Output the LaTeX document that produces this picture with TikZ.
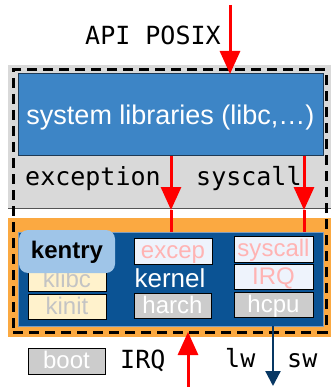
\documentclass[tikz,border=0pt]{standalone}
\usepackage{fontspec}
\setmainfont{Liberation Sans}
\newfontfamily\codefont{DejaVu Sans Mono}
\usetikzlibrary{arrows.meta,shadows}

\definecolor{usergray}{HTML}{D9D9D9}
\definecolor{edgegray}{HTML}{555555}
\definecolor{kernorange}{HTML}{FBA941}
\definecolor{libblue}{HTML}{3D85C6}
\definecolor{libedge}{HTML}{1F3A55}
\definecolor{kernblue}{HTML}{0B5394}
\definecolor{kernedge}{HTML}{7F9DBD}
\definecolor{entryblue}{HTML}{9FC5E8}
\definecolor{paleblue}{HTML}{EEF3FC}
\definecolor{palepink}{HTML}{FFB3B3}
\definecolor{cream}{HTML}{FFF2CC}
\definecolor{softgray}{HTML}{CCCCCC}
\definecolor{textgray}{HTML}{C4C4C4}
\definecolor{navy}{HTML}{073763}

\begin{document}
\begin{tikzpicture}[x=1pt,y=-1pt,
  area/.style={anchor=north west, inner sep=0pt, outer sep=0pt},
  code/.style={font=\codefont\fontsize{25}{28}\selectfont, anchor=base west, inner sep=0pt},
  panelbox/.style={area, draw=black, line width=0.8pt,
    minimum width=78pt, minimum height=26pt,
    font=\fontsize{24}{26}\selectfont, text height=17pt, text depth=2pt,
    drop shadow={shadow xshift=1.3pt, shadow yshift=-1.3pt, opacity=1, fill=black}},
  pinkbox/.style={panelbox, fill=paleblue, text=palepink},
  greybox/.style={panelbox, fill=softgray, text=white},
  creambox/.style={panelbox, fill=cream, text=textgray},
  redarrow/.style={draw=red, line width=3pt, -{Triangle[width=20pt,length=23pt]}},
  redline/.style={draw=red, line width=3pt},
  navyarrow/.style={draw=navy, line width=2.2pt, -{Triangle[width=15pt,length=15pt]}}
]
\useasboundingbox (0,0) rectangle (331,387);

% user space and kernel space bands
\node[area, fill=usergray, minimum width=323pt, minimum height=143pt] (userland) at (8,65) {};
\draw[edgegray, line width=1pt] (userland.south west) -- (userland.south east);
\node[area, fill=kernorange, minimum width=323pt, minimum height=119pt] (kernland) at (8,218) {};

% dashed outline around both layers
\node[area, draw=black, line width=3pt, dash pattern=on 10pt off 6pt,
      minimum width=313pt, minimum height=262pt] (ring) at (13,70) {};

% system libraries
\node[area, fill=libblue, draw=libedge, line width=1pt,
      minimum width=305pt, minimum height=82pt, text=white,
      font=\fontsize{27}{30}\selectfont, text height=21pt, text depth=1pt]
      (syslib) at (18,74) {system libraries (libc,…)};

% kernel
\node[area, fill=kernblue, draw=kernedge, line width=1pt,
      minimum width=305pt, minimum height=94pt] (kernel) at (18,232) {};
\node[anchor=base, text=white, inner sep=0pt, font=\fontsize{26}{28}\selectfont]
      (kernellabel) at (170,287) {kernel};

\node[creambox, minimum width=78pt, minimum height=23pt] (klibc) at (28,268) {klibc};
\node[creambox, minimum width=78pt, minimum height=25pt] (kinit) at (28,294) {kinit};
\node[area, fill=entryblue, rounded corners=9pt, minimum width=96pt, minimum height=43pt,
      font=\bfseries\fontsize{24}{26}\selectfont, text height=17pt, text depth=3pt]
      (kentry) at (19,230) {kentry};

\node[pinkbox] (excep) at (134,238) {excep};
\node[greybox, minimum width=77pt, minimum height=25pt] (harch) at (134,293) {harch};
\node[pinkbox, minimum width=79pt] (sysentry) at (234,236) {syscall};
\node[pinkbox, minimum width=79pt, minimum height=25pt] (irqentry) at (234,264) {IRQ};
\node[greybox, minimum width=79pt, minimum height=25pt] (hcpu) at (234,292) {hcpu};

% labels in monospace
\node[code] (posix) at (85,45) {API POSIX};
\node[code] (exclabel) at (25,185) {exception};
\node[code] (syslabel) at (196,185) {syscall};
\node[greybox, draw=black, minimum width=77pt] (boot) at (28,348) {boot};
\node[code] (irqlabel) at (120,368) {IRQ};
\node[code] (lwlabel) at (225,367) {lw};
\node[code] (swlabel) at (287,367) {sw};

% connectors
\coordinate (posixIn) at (230,5);
\draw[redarrow] (posixIn) -- (posixIn |- syslib.north);

\coordinate (excTip) at (171,210);
\draw[redarrow] (syslib.south -| excTip) -- (excTip);
\draw[redline] (excTip) -- (kernel.north -| excTip);

\coordinate (sysTip) at (304,210);
\draw[redarrow] (syslib.south -| sysTip) -- (sysTip);
\draw[redline] (sysTip) -- (kernel.north -| sysTip);

\coordinate (irqIn) at (188,387);
\draw[redarrow] (irqIn) -- (irqIn |- ring.south);

\coordinate (memOut) at (273,386);
\draw[navyarrow] (kernel.south -| memOut) -- (memOut);
\end{tikzpicture}
\end{document}
